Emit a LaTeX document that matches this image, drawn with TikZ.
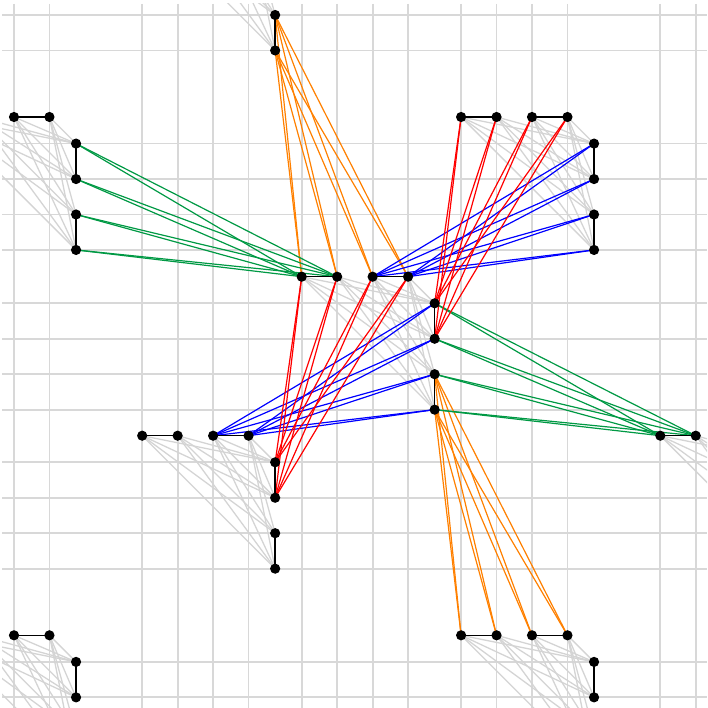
\documentclass[tikz,border=0pt]{standalone}
\definecolor{gridc}{RGB}{216,216,216}
\definecolor{edgec}{RGB}{212,212,212}
\definecolor{orangec}{RGB}{255,128,0}
\definecolor{greenc}{RGB}{0,153,68}
\definecolor{redc}{RGB}{255,0,0}
\definecolor{bluec}{RGB}{0,0,255}
\tikzset{
  gridline/.style={draw=gridc,line width=1.8pt},
  intra/.style={draw=edgec,line width=1.3pt},
  pairline/.style={draw=black,line width=1.5pt},
  oline/.style={draw=orangec,line width=1.2pt},
  gline/.style={draw=greenc,line width=1.2pt},
  rline/.style={draw=redc,line width=1.2pt},
  bline/.style={draw=bluec,line width=1.2pt},
}
\newcommand\mkunit[3]{%
  \foreach \i in {0,1,2,3}{%
    \coordinate (#1-h\i) at ({#2+\i*35.45},{#3});
    \coordinate (#1-v\i) at ({#2+3*35.45+26.6},{#3+26.6+\i*35.45});
  }}
\begin{document}
\begin{tikzpicture}[x=1pt,y=-1pt]
\useasboundingbox (0,0) rectangle (708,708);
\clip (2,4) rectangle (707,708);
% unit cells
\mkunit{A}{-56.9}{117}
\mkunit{B}{461.1}{117}
\mkunit{C}{301.7}{276.7}
\mkunit{D}{142.2}{435.7}
\mkunit{E}{660.3}{435.7}
\mkunit{F}{142.2}{-82.5}
\mkunit{G}{-56.9}{635.3}
\mkunit{H}{461.1}{635.3}
% grid
\foreach \x in {14,49.45,142.2,177.65,213.1,248.55,301.7,337.15,372.6,408.05,461.1,496.55,532,567.45,660.3,695.75}
  \draw[gridline] (\x,4) -- (\x,708);
\foreach \y in {15,50.45,143.6,179.05,214.5,249.95,303.3,338.75,374.2,409.65,462.3,497.75,533.2,568.65,661.9,697.35}
  \draw[gridline] (2,\y) -- (707,\y);
% intra-cell edges
\foreach \u in {A,B,C,D,E,F,G,H}
  \foreach \i in {0,1,2,3}
    \foreach \j in {0,1,2,3}
      \draw[intra] (\u-h\i) -- (\u-v\j);
% orange
\foreach \a in {2,3}
  \foreach \b in {0,1,2,3}{
    \draw[oline] (F-v\a) -- (C-h\b);
    \draw[oline] (C-v\a) -- (H-h\b);
  }
% green
\foreach \a in {0,1,2,3}
  \foreach \b in {0,1}{
    \draw[gline] (A-v\a) -- (C-h\b);
    \draw[gline] (C-v\a) -- (E-h\b);
  }
% blue
\foreach \a in {0,1,2,3}
  \foreach \b in {2,3}{
    \draw[bline] (B-v\a) -- (C-h\b);
    \draw[bline] (C-v\a) -- (D-h\b);
  }
% red
\foreach \a in {0,1,2,3}
  \foreach \b in {0,1}{
    \draw[rline] (B-h\a) -- (C-v\b);
    \draw[rline] (C-h\a) -- (D-v\b);
  }
% pair edges
\foreach \u in {A,B,C,D,E,F,G,H}{
  \draw[pairline] (\u-h0) -- (\u-h1);
  \draw[pairline] (\u-h2) -- (\u-h3);
  \draw[pairline] (\u-v0) -- (\u-v1);
  \draw[pairline] (\u-v2) -- (\u-v3);
}
% dots
\foreach \u in {A,B,C,D,E,F,G,H}
  \foreach \i in {0,1,2,3}{
    \fill[black] (\u-h\i) circle (5.1);
    \fill[black] (\u-v\i) circle (5.1);
  }
\end{tikzpicture}
\end{document}
